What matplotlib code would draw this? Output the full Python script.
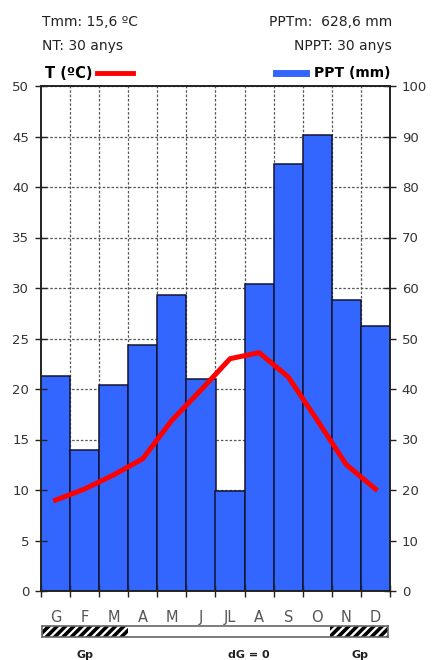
import matplotlib
import matplotlib.pyplot as plt
from matplotlib.lines import Line2D
import numpy as np

matplotlib.rcParams['font.family'] = ['DejaVu Sans']
matplotlib.rcParams['hatch.linewidth'] = 2.6

months = ['G', 'F', 'M', 'A', 'M', 'J', 'JL', 'A', 'S', 'O', 'N', 'D']
temp = [9.0, 10.1, 11.5, 13.1, 16.9, 19.9, 23.0, 23.6, 21.2, 16.9, 12.5, 10.1]
ppt = [42.6, 28.0, 40.8, 48.8, 58.6, 42.0, 19.8, 60.7, 84.5, 90.2, 57.6, 52.5]
gp = [1, 1, 1, 0, 0, 0, 0, 0, 0, 0, 1, 1]

x = np.arange(len(months))
dark = '#222222'
grey = '#555555'

fig = plt.figure(figsize=(4.34, 6.6), dpi=100)
ax = fig.add_axes([41/434, 1-591/660, 349/434, 505/660])
ax2 = ax.twinx()
ax.set_zorder(ax2.get_zorder() + 1)
ax.patch.set_visible(False)

# bars (right axis) with grid behind
ax2.set_axisbelow(True)
ax2.yaxis.grid(True, linestyle=(0, (2, 1.5)), color='#555555', lw=0.9)
ax2.vlines(x[:-1] + 0.5, 0, 100, linestyle=(0, (2, 1.5)), color='#555555', lw=0.9, zorder=0.5)
ax2.bar(x, ppt, width=1, color='#3366ff', edgecolor='#141433', linewidth=1.1, zorder=2)
ax2.set_ylim(0, 100)
ax2.set_yticks(np.arange(0, 101, 10))

# temperature (left axis)
ax.plot(x, temp, color='#ff0000', lw=3.6, zorder=3)
ax.set_ylim(0, 50)
ax.set_yticks(np.arange(0, 51, 5))
ax.set_xlim(-0.5, len(months) - 0.5)
ax.set_xticks(np.arange(-0.5, len(months), 1))
ax.set_xticklabels([])
ax.set_xticks(x, minor=True)
ax.set_xticklabels(months, minor=True)

ax.tick_params(axis='x', which='major', direction='inout', length=8, width=1, color=dark)
ax.tick_params(axis='x', which='minor', length=0, pad=14, labelsize=10.5, labelcolor=grey)
ax.tick_params(axis='y', direction='inout', length=9, width=1, color=dark, labelsize=9.5, labelcolor='#333333', pad=4)
ax2.tick_params(axis='y', direction='inout', length=9, width=1, color=dark, labelsize=9.5, labelcolor='#333333', pad=4)
for a in (ax, ax2):
    for s in a.spines.values():
        s.set_color(dark)
        s.set_linewidth(1.2)

# header text
fig.text(42/434, 1-22/660, 'Tmm: 15,6 ºC', fontsize=10, color=dark, va='center')
fig.text(42/434, 1-46/660, 'NT: 30 anys', fontsize=10, color=dark, va='center')
fig.text(392/434, 1-22/660, 'PPTm:  628,6 mm', fontsize=10, color=dark, va='center', ha='right')
fig.text(392/434, 1-46/660, 'NPPT: 30 anys', fontsize=10, color=dark, va='center', ha='right')

# legend
fig.text(45/434, 1-73/660, 'T (ºC)', fontsize=10.5, fontweight='bold', color='black', va='center')
fig.add_artist(Line2D([97/434, 133/434], [1-73/660, 1-73/660], color='#ff0000', lw=3.5))
fig.add_artist(Line2D([276/434, 306/434], [1-73/660, 1-73/660], color='#3366ff', lw=5))
fig.text(390/434, 1-73/660, 'PPT (mm)', fontsize=10, fontweight='bold', color='black', va='center', ha='right')

# frost strip
ax3 = fig.add_axes([41.7/434, 1-637/660, 346/434, 11/660])
ax3.set_xlim(-0.5, len(months) - 0.5)
ax3.set_ylim(0, 1)
for i, g in enumerate(gp):
    if g:
        ax3.axvspan(i - 0.5, i + 0.5, facecolor='white', edgecolor='black', hatch='////', lw=0)
ax3.set_xticks([])
ax3.set_yticks([])
for s in ax3.spines.values():
    s.set_color('#666666')
    s.set_linewidth(1.2)

# strip labels
tr = ax3.get_xaxis_transform()
ax3.text(1.0, -1.6, 'Gp', transform=tr, ha='center', va='center', fontsize=8, fontweight='bold', color=dark)
ax3.text(6.7, -1.6, 'dG = 0', transform=tr, ha='center', va='center', fontsize=8, fontweight='bold', color=dark)
ax3.text(10.55, -1.6, 'Gp', transform=tr, ha='center', va='center', fontsize=8, fontweight='bold', color=dark)

fig.savefig('out.png', dpi=100)
